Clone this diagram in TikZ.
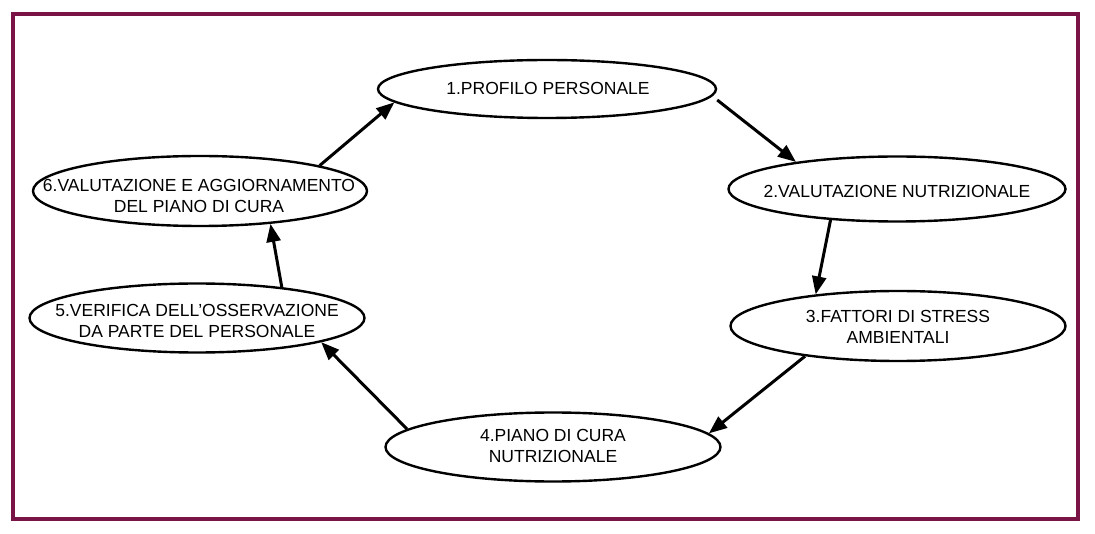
\documentclass[tikz,border=0pt]{standalone}
\usepackage{fontspec}
\setmainfont{Liberation Sans}
\usetikzlibrary{arrows.meta,shapes.geometric}
\definecolor{framecol}{RGB}{122,20,70}
\begin{document}
\begin{tikzpicture}[x=1pt,y=-1pt,
  ell/.style={draw, ellipse, line width=2.4pt, inner sep=0pt},
  lab/.style={font=\fontsize{17.5}{21}\selectfont, align=center, inner sep=0pt},
  arr/.style={line width=3pt, -{Triangle[length=18pt,width=14pt]}}]
\useasboundingbox (0,0) rectangle (1095,534);
\fill[white] (0,0) rectangle (1095,534);
\draw[framecol, line width=4pt] (13,14) rectangle (1077.5,519);
% ellipses
\node[ell, minimum width=338pt, minimum height=58pt] (e1) at (547,89) {};
\node[ell, minimum width=337pt, minimum height=65pt] (e2) at (897,189) {};
\node[ell, minimum width=335pt, minimum height=70pt] (e3) at (898,326) {};
\node[ell, minimum width=335pt, minimum height=69pt] (e4) at (553,447) {};
\node[ell, minimum width=335pt, minimum height=69pt] (e5) at (197,318) {};
\node[ell, minimum width=334pt, minimum height=70pt] (e6) at (200,191) {};
% texts
\node[lab] (t1) at (548,88) {1.PROFILO PERSONALE};
\node[lab] (t2) at (897,191) {2.VALUTAZIONE NUTRIZIONALE};
\node[lab] (t3) at (898,327) {3.FATTORI DI STRESS\\AMBIENTALI};
\node[lab] (t4) at (553,446) {4.PIANO DI CURA\\NUTRIZIONALE};
\node[lab] (t5) at (197,321) {5.VERIFICA DELL’OSSERVAZIONE\\DA PARTE DEL PERSONALE};
\node[lab] (t6) at (199,196) {6.VALUTAZIONE E AGGIORNAMENTO\\DEL PIANO DI CURA};
% arrows
\draw[arr] ([yshift=-11pt]e1.east) -- (e2.165);
\draw[arr] (e2.205) -- (e3.159);
\draw[arr] (e3.198) -- (e4.5);
\draw[arr] (e4.173) -- (e5.-11);
\draw[arr] (e5.20) -- (e6.-25);
\draw[arr] (e6.12) -- (e1.185);
\end{tikzpicture}
\end{document}
